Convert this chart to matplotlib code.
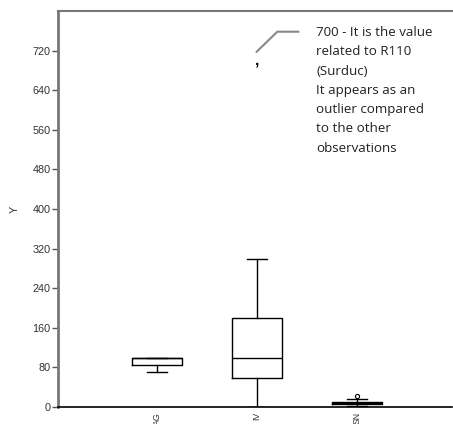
import matplotlib
matplotlib.use("Agg")
import matplotlib.pyplot as plt

categories = ["AG", "IV", "SN"]
whisker_low = [70, 0, 2]
q1 = [84, 59, 6]
median = [100, 99, 8.5]
q3 = [100, 180, 11]
whisker_high = [100, 300, 16]
outliers = [[], [], [22]]
extreme_value = 700
extreme_group = 2
y_ticks = [0, 80, 160, 240, 320, 400, 480, 560, 640, 720]
note = ("700 - It is the value\nrelated to R110\n(Surduc)\nIt appears as an\n"
        "outlier compared\nto the other\nobservations")

W, H = 453, 424
fig = plt.figure(figsize=(W / 100, H / 100), dpi=100)
ax = fig.add_axes([57.5 / W, 1 - 407 / H, (452 - 57.5) / W, (407 - 11) / H])

stats = []
for i, c in enumerate(categories):
    stats.append(dict(label=c, whislo=whisker_low[i], q1=q1[i], med=median[i],
                      q3=q3[i], whishi=whisker_high[i], fliers=outliers[i]))

ax.bxp(stats, positions=[1, 2, 3], widths=0.5, capwidths=0.2, showfliers=True,
       boxprops=dict(color="black", linewidth=1),
       whiskerprops=dict(color="black", linewidth=1),
       capprops=dict(color="black", linewidth=1),
       medianprops=dict(color="black", linewidth=1),
       flierprops=dict(marker="o", markersize=3, markerfacecolor="white",
                       markeredgecolor="black", markeredgewidth=0.8))

# extreme outlier drawn as a small comma glyph
ax.text(extreme_group, extreme_value, ",", ha="center", va="center",
        fontsize=11, fontweight="bold", color="black", family="Liberation Sans")

ax.set_xlim(0.005, 3.95)
ax.set_ylim(0, 800)
ax.set_yticks(y_ticks)
ax.set_yticklabels([str(t) for t in y_ticks], fontsize=7.8, color="#333333",
                   family="Liberation Sans")
ax.set_xticks([1, 2, 3])
ax.set_xticklabels(categories, rotation=90, fontsize=6.3, color="#333333",
                   family="Liberation Sans", va="top", ha="center")
ax.tick_params(axis="x", length=0, pad=3.5)
ax.tick_params(axis="y", length=4, width=1, color="#555555", pad=1)
ax.set_ylabel("Y", fontsize=7.8, color="#333333", family="Liberation Sans",
              labelpad=9)

ax.spines["right"].set_visible(False)
ax.spines["top"].set_color("#777777")
ax.spines["top"].set_linewidth(1.5)
ax.spines["left"].set_color("#777777")
ax.spines["left"].set_linewidth(2)
ax.spines["bottom"].set_color("black")
ax.spines["bottom"].set_linewidth(1.2)

# annotation leader line
fig.add_artist(plt.Line2D([256.7 / W, 277.3 / W, 298.3 / W],
                          [1 - 51.7 / H, 1 - 31.7 / H, 1 - 31.7 / H],
                          color="#888888", linewidth=1.5,
                          transform=fig.transFigure))
fig.text(316.5 / W, 1 - 26 / H, note, ha="left", va="top", fontsize=9.6,
         family="Open Sans", color="#222222", linespacing=1.63)

fig.savefig("out.png", dpi=100)
